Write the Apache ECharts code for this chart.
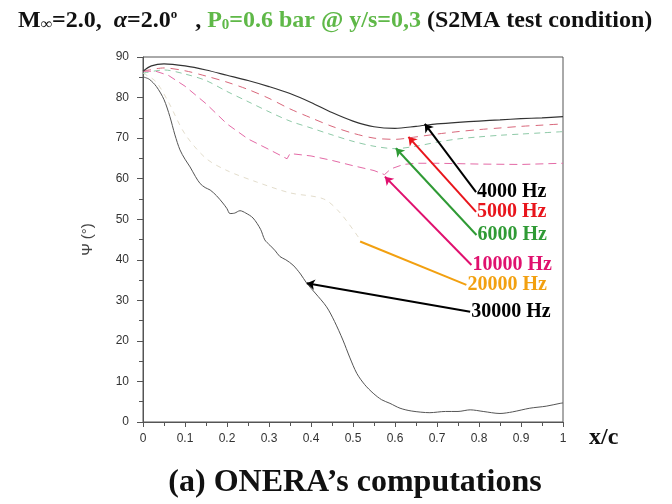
<!DOCTYPE html>
<html><head><meta charset="utf-8">
<script src="https://cdn.jsdelivr.net/npm/echarts@6/dist/echarts.min.js"></script>
<style>html,body{margin:0;padding:0;background:#fff}#c{width:672px;height:504px}</style>
</head><body><div id="c"></div>
<script>
// ---- data ----
const xTicks = [0,0.1,0.2,0.3,0.4,0.5,0.6,0.7,0.8,0.9,1];
const yTicks = [0,10,20,30,40,50,60,70,80,90];

const x4000 = [0,0.02,0.05,0.1,0.15,0.2,0.25,0.3,0.35,0.4,0.45,0.5,0.55,0.6,0.65,0.7,0.75,0.8,0.85,0.9,0.95,1.0];
const y4000 = [86.5,87.8,88.3,87.8,86.8,85.5,84.2,82.7,81.0,78.8,76.3,74.2,72.8,72.4,72.9,73.5,73.9,74.2,74.5,74.8,75.0,75.3];

const x5000 = [0,0.05,0.1,0.15,0.2,0.25,0.3,0.35,0.4,0.45,0.5,0.55,0.6,0.65,0.7,0.75,0.8,0.85,0.9,0.95,1.0];
const y5000 = [86.5,87.3,86.6,85.3,83.8,82.0,79.8,77.2,75.0,72.9,71.2,70.0,69.7,70.3,71.0,71.6,72.1,72.5,72.9,73.2,73.5];

const x6000 = [0,0.05,0.1,0.15,0.2,0.25,0.3,0.35,0.4,0.45,0.5,0.55,0.6,0.65,0.7,0.75,0.8,0.85,0.9,0.95,1.0];
const y6000 = [86.0,86.8,85.8,84.2,81.5,79.0,76.5,74.2,72.5,70.8,69.2,68.0,67.4,68.0,69.0,69.8,70.3,70.7,71.0,71.3,71.6];

const x10000 = [0,0.03,0.06,0.1,0.15,0.2,0.25,0.3,0.343,0.35,0.4,0.45,0.5,0.55,0.575,0.59,0.62,0.65,0.7,0.8,0.9,1.0];
const y10000 = [86.5,86.5,85.5,82.8,78.5,73.5,69.8,67.2,64.9,66.2,65.6,64.5,63.2,62.0,61.0,62.4,63.5,63.8,63.8,63.6,63.5,63.8];

const x20000 = [0,0.03,0.06,0.1,0.15,0.2,0.27,0.35,0.43,0.47,0.52];
const y20000 = [86.0,84.0,79.0,71.0,65.0,62.0,59.2,56.5,55.0,51.5,44.5];

const x30000 = [0,0.015,0.032,0.05,0.064,0.076,0.088,0.1,0.112,0.125,0.136,0.148,0.16,0.175,0.19,0.2,0.207,0.218,0.231,0.245,0.262,0.28,0.29,0.302,0.315,0.326,0.34,0.357,0.375,0.39,0.41,0.437,0.456,0.476,0.492,0.509,0.528,0.548,0.568,0.588,0.612,0.64,0.683,0.72,0.75,0.779,0.81,0.85,0.88,0.921,0.96,0.993,1.0];
const y30000 = [85.1,84.5,82.7,79.5,75.3,70.8,67.1,64.8,62.9,60.5,58.8,57.8,57.2,55.8,54.0,52.6,51.4,51.5,52.1,51.5,50.3,47.5,44.9,43.6,42.2,40.8,40.0,38.7,36.5,34.2,31.8,28.4,24.8,20.2,16.0,12.0,9.2,7.1,5.5,4.6,3.4,2.7,2.3,2.6,2.6,3.0,2.6,2.1,2.5,3.4,3.9,4.6,4.7];

// annotations: label, tail (text anchor) and arrow tip
const annLabels = ['4000 Hz','5000 Hz','6000 Hz','10000 Hz','20000 Hz','30000 Hz'];
const annColors = ['#000000','#e8151c','#2f9a35','#e0106e','#f2a010','#000000'];
const annTailX = [0.793,0.793,0.794,0.782,0.770,0.779];
const annTailY = [56.7,51.8,46.1,38.7,33.8,27.2];
const annTipX  = [0.671,0.632,0.602,0.576,0.517,0.390];
const annTipY  = [73.5,70.3,67.5,60.5,44.5,34.2];
const annArrow = [true,true,true,true,false,true];

const zip = (xs, ys) => xs.map((x, i) => [x, ys[i]]);

const chart = echarts.init(document.getElementById('c'), null, {renderer: 'canvas'});
const serif = 'Liberation Serif, Times New Roman, serif';
const sans = 'Liberation Sans, Arial, sans-serif';

function curve(name, xs, ys, color, type, width, smooth) {
  return {type: 'line', name, data: zip(xs, ys), showSymbol: false, symbol: 'none', smooth: smooth,
    lineStyle: {color, type, width}, z: 2, silent: true};
}

const series = [
  curve('20000 Hz', x20000, y20000, '#e3ddcc', [5,5], 1, 0.3),
  curve('6000 Hz', x6000, y6000, '#8fcaa8', [6,5], 1, 0.3),
  curve('10000 Hz', x10000, y10000, '#e46aa6', [8,5], 1, false),
  curve('5000 Hz', x5000, y5000, '#d9677b', [8,6], 1, 0.3),
  curve('4000 Hz', x4000, y4000, '#333333', 'solid', 1.2, 0.3),
  curve('30000 Hz', x30000, y30000, '#555555', 'solid', 1, 0.3),
];

annLabels.forEach((lab, i) => {
  series.push({
    type: 'lines', coordinateSystem: 'cartesian2d', silent: true, z: 5,
    symbol: ['none', annArrow[i] ? 'arrow' : 'none'], symbolSize: 8,
    lineStyle: {color: annColors[i], width: 2, opacity: 1, curveness: 0},
    data: [{coords: [[annTailX[i], annTailY[i]], [annTipX[i], annTipY[i]]]}]
  });
});
series.push({
  type: 'scatter', symbolSize: 2, itemStyle: {color: 'rgba(0,0,0,0)'}, silent: true, z: 6,
  data: annLabels.map((lab, i) => ({
    value: [annTailX[i], annTailY[i]],
    label: {show: true, position: 'right', distance: 0, formatter: lab, opacity: 1,
      color: annColors[i], textBorderWidth: 0, fontFamily: serif, fontWeight: 'bold', fontSize: 20}
  })),
  emphasis: {disabled: true}
});

chart.setOption({
  animation: false,
  backgroundColor: '#ffffff',
  title: [{
    left: 13, top: 3,
    text: '{b|M}{s|∞}{b|=2.0,  }{i|α}{b|=2.0}{sup|o}{b|   , }{g|P}{gs|0}{g|=0.6 bar @ y/s=0,3}{b| (S2MA test condition)}',
    textStyle: {rich: {
      b: {fontFamily: serif, fontWeight: 'bold', fontSize: 24, color: '#111'},
      i: {fontFamily: serif, fontWeight: 'bold', fontStyle: 'italic', fontSize: 24, color: '#111'},
      s: {fontFamily: serif, fontWeight: 'bold', fontSize: 16, color: '#111', verticalAlign: 'bottom', padding: [9,0,0,0]},
      sup: {fontFamily: serif, fontWeight: 'bold', fontSize: 13, color: '#111', verticalAlign: 'top', padding: [0,0,9,0]},
      g: {fontFamily: serif, fontWeight: 'bold', fontSize: 24, color: '#5fb848'},
      gs: {fontFamily: serif, fontWeight: 'bold', fontSize: 15, color: '#5fb848', verticalAlign: 'bottom', padding: [9,0,0,0]}
    }}
  }, {
    top: 462, left: 350, textAlign: 'center',
    text: '(a) ONERA’s computations',
    textStyle: {fontFamily: serif, fontWeight: 'bold', fontSize: 32, color: '#111'}
  }],
  grid: {left: 143, right: 109, top: 57, bottom: 82, show: true, borderColor: '#555', borderWidth: 1, backgroundColor: 'transparent'},
  xAxis: {
    type: 'value', min: 0, max: 1, interval: 0.1,
    name: 'x/c', nameLocation: 'end', nameGap: 26,
    nameTextStyle: {fontFamily: serif, fontWeight: 'bold', fontSize: 24, color: '#111', verticalAlign: 'top', padding: [4,0,0,0]},
    axisLine: {show: true, lineStyle: {color: '#555', width: 1}},
    axisTick: {show: true, length: 5, lineStyle: {color: '#555'}},
    minorTick: {show: true, splitNumber: 2, length: 4, lineStyle: {color: '#555'}},
    splitLine: {show: false},
    axisLabel: {fontFamily: sans, fontSize: 12, color: '#333', margin: 11,
      formatter: v => { const t = xTicks.find(k => Math.abs(k - v) < 1e-6); return t === undefined ? '' : String(t); }}
  },
  yAxis: {
    type: 'value', min: 0, max: 90, interval: 10,
    name: 'Ψ (°)', nameLocation: 'middle', nameGap: 48,
    nameTextStyle: {fontFamily: sans, fontSize: 15, color: '#444'},
    axisLine: {show: true, lineStyle: {color: '#555', width: 1}},
    axisTick: {show: true, length: 6, lineStyle: {color: '#555'}},
    minorTick: {show: true, splitNumber: 2, length: 4, lineStyle: {color: '#555'}},
    splitLine: {show: false},
    axisLabel: {fontFamily: sans, fontSize: 12, color: '#333', margin: 14,
      formatter: v => { const t = yTicks.find(k => Math.abs(k - v) < 1e-6); return t === undefined ? '' : String(t); }}
  },
  series
});
</script></body></html>
